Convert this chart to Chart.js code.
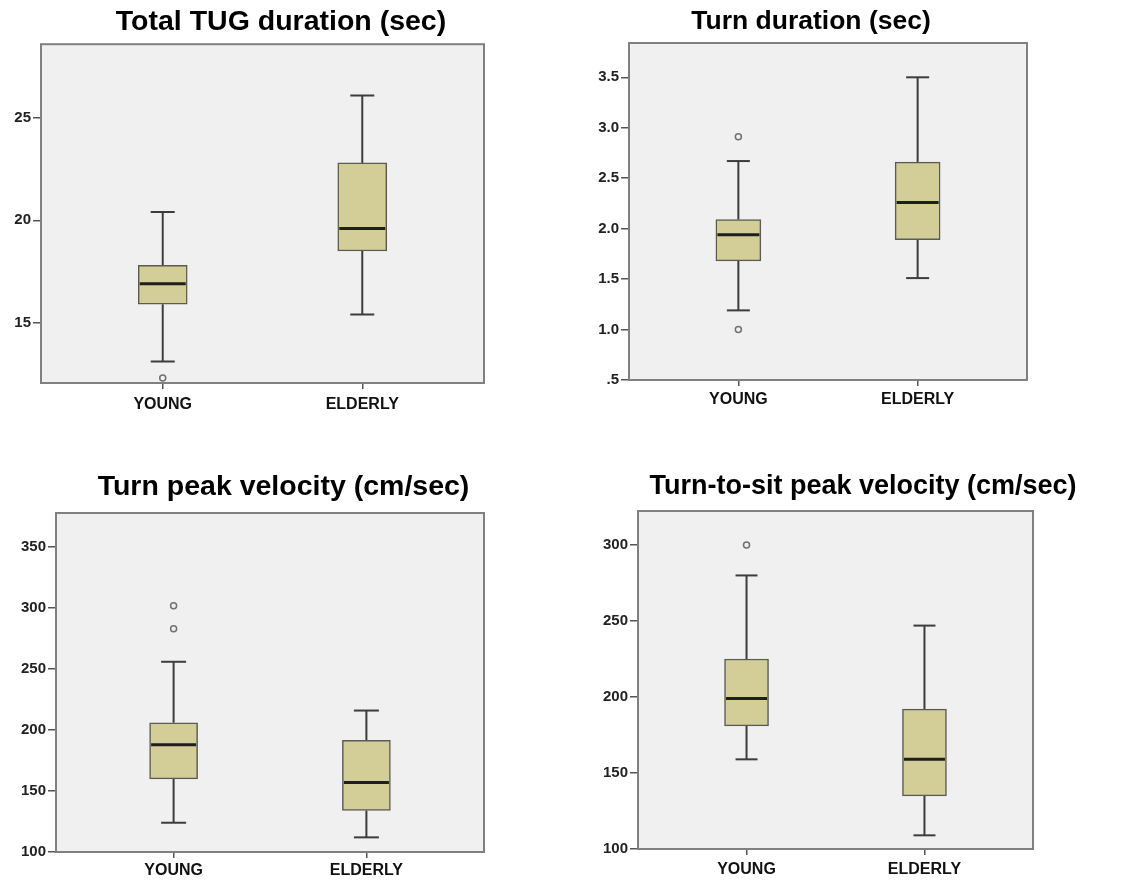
<!DOCTYPE html>
<html lang="en">
<head>
  <meta charset="UTF-8">
  <title>TUG box plots</title>
  <script src="https://cdn.jsdelivr.net/npm/chart.js"></script>
  <style>
    body {
      margin: 0;
      background: #fff;
      width: 1128px;
      height: 884px;
      overflow: hidden;
      position: relative;
    }
    canvas { position: absolute; }
  </style>
</head>
<body>
  <canvas id="tugChart" width="562" height="423" style="left:0;top:0"></canvas>
  <canvas id="turnChart" width="494" height="420" style="left:564px;top:0"></canvas>
  <canvas id="peakChart" width="567" height="422" style="left:0;top:460px"></canvas>
  <canvas id="sitChart" width="598" height="419" style="left:564px;top:460px"></canvas>

  <script>
    const groups = ['YOUNG', 'ELDERLY'];

    // each box: [low whisker, Q1, median, Q3, high whisker]
    const tugYoung = [13.1, 15.9, 16.9, 17.8, 20.4];
    const tugElderly = [15.4, 18.5, 19.6, 22.8, 26.1];
    const tugOutliers = [[12.3], []];
    const tugTicks = [15, 20, 25];

    const turnYoung = [1.19, 1.68, 1.94, 2.09, 2.67];
    const turnElderly = [1.51, 1.89, 2.26, 2.66, 3.50];
    const turnOutliers = [[2.91, 1.00], []];
    const turnTicks = [0.5, 1.0, 1.5, 2.0, 2.5, 3.0, 3.5];
    const turnTickLabels = ['.5', '1.0', '1.5', '2.0', '2.5', '3.0', '3.5'];

    const peakYoung = [124, 160, 188, 206, 256];
    const peakElderly = [112, 134, 157, 191.5, 216];
    const peakOutliers = [[302, 283], []];
    const peakTicks = [100, 150, 200, 250, 300, 350];

    const sitYoung = [159, 181, 199, 225, 280];
    const sitElderly = [109, 135, 159, 192, 247];
    const sitOutliers = [[300], []];
    const sitTicks = [100, 150, 200, 250, 300];

    const FONT = "'Liberation Sans', Arial, sans-serif";

    // grey plot background + frame, like SPSS output
    const framePlugin = {
      id: 'frame',
      beforeDraw(chart) {
        const a = chart.chartArea, ctx = chart.ctx;
        ctx.save();
        ctx.fillStyle = '#f0f0f0';
        ctx.fillRect(a.left, a.top, a.width, a.height);
        ctx.restore();
      },
      beforeDatasetsDraw(chart) {
        const a = chart.chartArea, ctx = chart.ctx;
        ctx.save();
        ctx.strokeStyle = '#808080';
        ctx.lineWidth = 2;
        ctx.strokeRect(a.left, a.top, a.width, a.height);
        ctx.restore();
      }
    };

    function makeBoxChart(id, p) {
      const xs = p.boxes.map((b, i) => i + 1);

      const datasets = [
        {
          type: 'bar',
          data: p.boxes.map((b, i) => ({ x: xs[i], y: [b[1], b[3]] })),
          backgroundColor: '#d3ce97',
          borderColor: '#5b5b55',
          borderWidth: 1.5,
          borderSkipped: false,
          barThickness: p.barW,
          order: 3
        },
        {
          type: 'line',
          data: p.boxes.flatMap((b, i) => [
            { x: xs[i], y: b[0] }, { x: xs[i], y: b[1] }, { x: xs[i], y: null },
            { x: xs[i], y: b[3] }, { x: xs[i], y: b[4] }, { x: xs[i], y: null }
          ]),
          borderColor: '#3c3c3c',
          borderWidth: 2,
          pointRadius: 0,
          order: 4
        },
        {
          type: 'scatter',
          data: p.boxes.flatMap((b, i) => [{ x: xs[i], y: b[0] }, { x: xs[i], y: b[4] }]),
          pointStyle: 'line',
          pointRadius: p.capR,
          pointBorderWidth: 2,
          pointBorderColor: '#3c3c3c',
          order: 2
        },
        {
          type: 'scatter',
          data: p.boxes.map((b, i) => ({ x: xs[i], y: b[2] })),
          pointStyle: 'line',
          pointRadius: p.barW / 2 - 1.5,
          pointBorderWidth: 3,
          pointBorderColor: '#1e1e1e',
          order: 1
        },
        {
          type: 'scatter',
          data: p.outliers.flatMap((o, i) => o.map(v => ({ x: xs[i], y: v }))),
          pointStyle: 'circle',
          pointRadius: 3,
          pointBorderWidth: 1.5,
          pointBorderColor: '#707070',
          pointBackgroundColor: '#f0f0f0',
          order: 1
        }
      ];

      return new Chart(document.getElementById(id), {
        type: 'scatter',
        data: { datasets },
        plugins: [framePlugin],
        options: {
          responsive: false,
          animation: false,
          events: [],
          plugins: {
            legend: { display: false },
            tooltip: { enabled: false },
            title: {
              display: true,
              text: p.title,
              color: '#000',
              font: { family: FONT, size: p.titleSize, weight: 'bold' },
              padding: { top: p.titleTop, bottom: p.titleBottom }
            }
          },
          scales: {
            x: {
              type: 'linear',
              offset: false,
              min: 0.39,
              max: 2.61,
              afterBuildTicks: s => { s.ticks = xs.map(v => ({ value: v })); },
              afterFit: s => { s.height = p.bottomH; },
              grid: { drawOnChartArea: false, offset: false, tickLength: 6, color: '#555', lineWidth: 1.5 },
              border: { display: false },
              ticks: {
                padding: p.labelPad,
                color: '#111',
                font: { family: FONT, size: 16, weight: 'bold' },
                callback: (v, i) => groups[i]
              }
            },
            y: {
              min: p.yMin,
              max: p.yMax,
              afterBuildTicks: s => { s.ticks = p.ticks.map(v => ({ value: v })); },
              afterFit: s => { s.width = p.leftW; },
              grid: { drawOnChartArea: false, tickLength: 8, color: '#555', lineWidth: 1.5 },
              border: { display: false },
              ticks: {
                padding: 2,
                color: '#222',
                font: { family: FONT, size: 15, weight: 'bold' },
                callback: (v, i) => p.tickLabels ? p.tickLabels[i] : String(v)
              }
            },
            yRight: {
              position: 'right',
              afterFit: s => { s.width = p.rightW; },
              grid: { display: false },
              border: { display: false },
              ticks: { display: false }
            }
          }
        }
      });
    }

    makeBoxChart('tugChart', {
      title: 'Total TUG duration (sec)', titleSize: 28.5, titleTop: 5, titleBottom: 5,
      boxes: [tugYoung, tugElderly], outliers: tugOutliers,
      ticks: tugTicks, yMin: 12.05, yMax: 28.6,
      leftW: 41, rightW: 78, bottomH: 40, labelPad: 6, barW: 49, capR: 12
    });

    makeBoxChart('turnChart', {
      title: 'Turn duration (sec)', titleSize: 26.5, titleTop: 5.6, titleBottom: 5.6,
      boxes: [turnYoung, turnElderly], outliers: turnOutliers,
      ticks: turnTicks, tickLabels: turnTickLabels, yMin: 0.5, yMax: 3.84,
      leftW: 65, rightW: 31, bottomH: 40, labelPad: 4, barW: 45, capR: 11.5
    });

    makeBoxChart('peakChart', {
      title: 'Turn peak velocity (cm/sec)', titleSize: 28.5, titleTop: 9.9, titleBottom: 8.9,
      boxes: [peakYoung, peakElderly], outliers: peakOutliers,
      ticks: peakTicks, yMin: 100, yMax: 378,
      leftW: 56, rightW: 83, bottomH: 30, labelPad: 3, barW: 48, capR: 12.5
    });

    makeBoxChart('sitChart', {
      title: 'Turn-to-sit peak velocity (cm/sec)', titleSize: 27, titleTop: 10.8, titleBottom: 7.8,
      boxes: [sitYoung, sitElderly], outliers: sitOutliers,
      ticks: sitTicks, yMin: 100, yMax: 322.4,
      leftW: 74, rightW: 129, bottomH: 30, labelPad: 5, barW: 44, capR: 11
    });
  </script>
</body>
</html>
